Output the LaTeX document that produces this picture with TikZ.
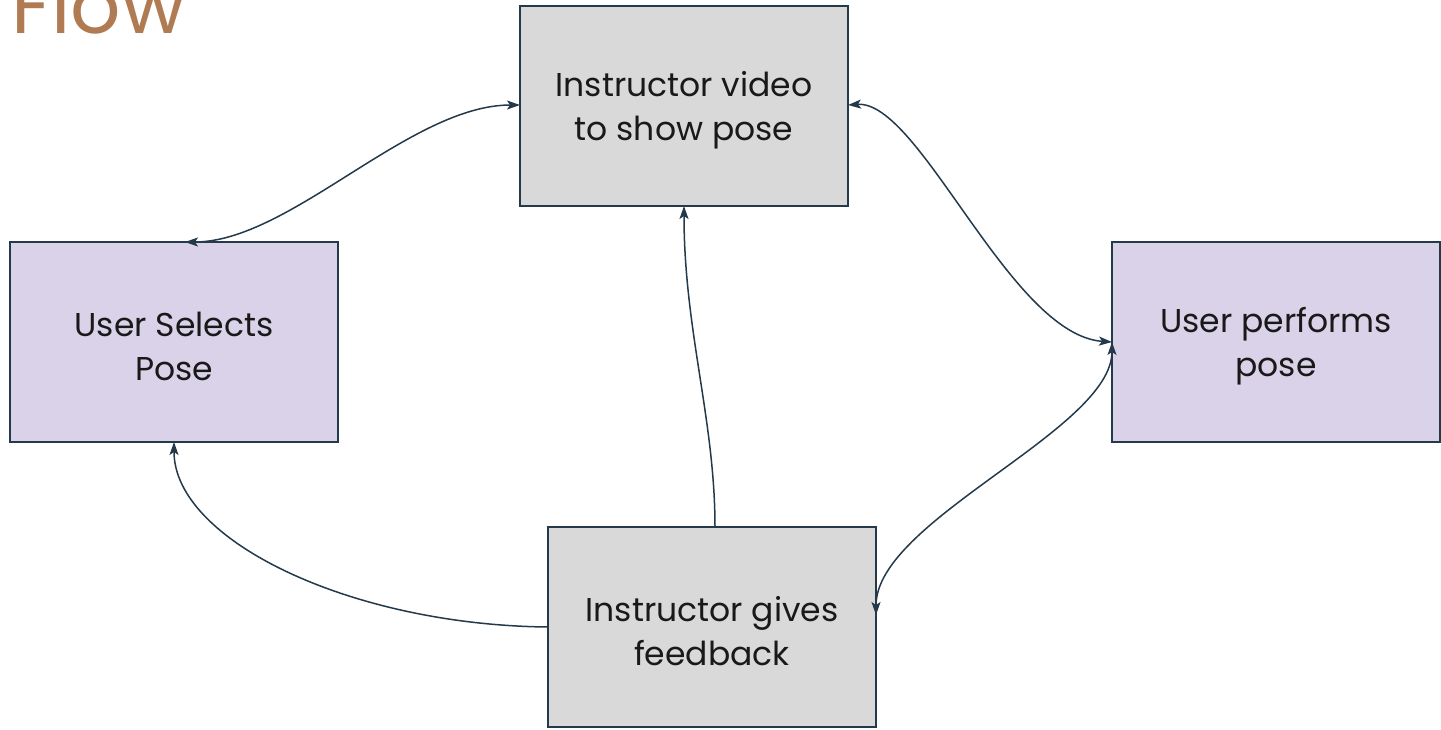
\documentclass[tikz,border=0pt]{standalone}
\usepackage{fontspec}
\setmainfont{Poppins}
\usetikzlibrary{arrows.meta}
\definecolor{edge}{HTML}{24394A}
\definecolor{graybox}{HTML}{D9D9D9}
\definecolor{lavbox}{HTML}{D9D2E9}
\definecolor{titlebrown}{HTML}{B07B52}
\tikzset{
  x=1pt, y=-1pt,
  box/.style={draw=edge, line width=1.5pt, minimum width=328pt, minimum height=200pt,
    inner sep=0pt},
  greybox/.style={box, fill=graybox},
  purplebox/.style={box, fill=lavbox},
  boxtext/.style={align=center, inner sep=0pt, yshift=-4pt,
    font=\fontsize{33}{44}\selectfont, text=black!90},
  link/.style={draw=edge, line width=1.5pt},
  >={Stealth[length=13pt, width=9pt, inset=3pt]}
}
\begin{document}
\begin{tikzpicture}
\useasboundingbox (0,0) rectangle (1441,729);

% title, partly cut by the top edge
\node[anchor=base west, inner sep=0pt, text=titlebrown,
      font=\fontsize{79}{80}\selectfont] (title) at (11,33) {Flow};

% boxes
\node[greybox]   (video)    at (684,106) {};
\node[purplebox] (select)   at (174,342) {};
\node[purplebox] (perform)  at (1276,342) {};
\node[greybox]   (feedback) at (712,627) {};

% box texts
\node[boxtext] (videoText)    at (video)    {Instructor video\\to show pose};
\node[boxtext] (selectText)   at (select)   {User Selects\\Pose};
\node[boxtext] (performText)  at (perform)  {User performs\\pose};
\node[boxtext] (feedbackText) at (feedback) {Instructor gives\\feedback};

% connectors
\coordinate (selTop)  at (185,242);
\coordinate (perfL)   at (1112,342);
\coordinate (fbTop)   at (715,527);
\coordinate (vidBot)  at (684,206);
\coordinate (fbLeft)  at (548,627);
\coordinate (selBot)  at (174,442);
\coordinate (fbRight) at (876,615);
\coordinate (vidL)    at (520,105);
\coordinate (vidR)    at (848,105);

\draw[link, <->] (selTop) .. controls (290,242) and (410,105) .. (vidL);
\draw[link, <->] (vidR) .. controls (920,100) and (1010,335) .. (perfL);
\draw[link, ->] (fbTop) .. controls (715,420) and (684,330) .. (vidBot);
\draw[link, ->] (fbLeft) .. controls (350,625) and (174,540) .. (selBot);
\draw[link, <->] (fbRight) .. controls (876,520) and (1112,430) .. (perfL);
\end{tikzpicture}
\end{document}
